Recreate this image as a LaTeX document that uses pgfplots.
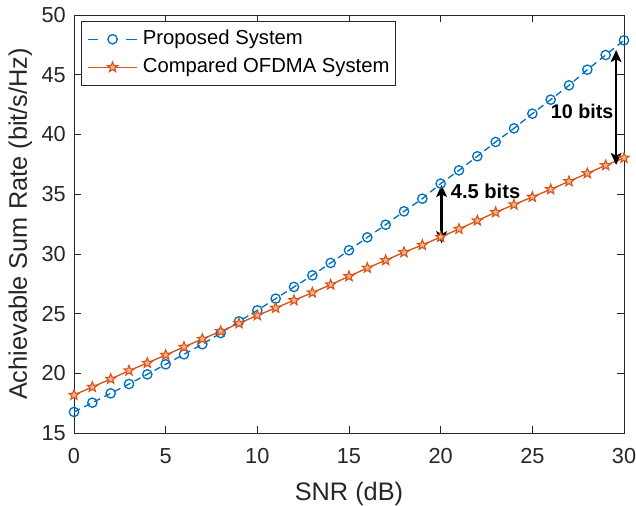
\documentclass[border=0pt]{standalone}
\usepackage{pgfplots}
\pgfplotsset{compat=1.18}
\usepackage{fontspec}
\setmainfont{Liberation Sans}
\usetikzlibrary{arrows.meta}

\definecolor{mblue}{rgb}{0,0.447,0.741}
\definecolor{morange}{rgb}{0.85,0.325,0.098}
\definecolor{maxis}{rgb}{0.15,0.15,0.15}

% five-pointed star marker
\pgfdeclareplotmark{pentagram}{%
  \pgfpathmoveto{\pgfpointpolar{90}{\pgfplotmarksize}}%
  \pgfpathlineto{\pgfpointpolar{126}{0.42*\pgfplotmarksize}}%
  \pgfpathlineto{\pgfpointpolar{162}{\pgfplotmarksize}}%
  \pgfpathlineto{\pgfpointpolar{198}{0.42*\pgfplotmarksize}}%
  \pgfpathlineto{\pgfpointpolar{234}{\pgfplotmarksize}}%
  \pgfpathlineto{\pgfpointpolar{270}{0.42*\pgfplotmarksize}}%
  \pgfpathlineto{\pgfpointpolar{306}{\pgfplotmarksize}}%
  \pgfpathlineto{\pgfpointpolar{342}{0.42*\pgfplotmarksize}}%
  \pgfpathlineto{\pgfpointpolar{18}{\pgfplotmarksize}}%
  \pgfpathlineto{\pgfpointpolar{54}{0.42*\pgfplotmarksize}}%
  \pgfpathclose
  \pgfusepathqfillstroke
}

\pgfplotstableread{
snr prop ofdma
0  16.76 18.18
1  17.54 18.85
2  18.32 19.52
3  19.10 20.22
4  19.91 20.86
5  20.75 21.53
6  21.59 22.20
7  22.43 22.87
8  23.37 23.51
9  24.35 24.18
10 25.27 24.85
11 26.25 25.47
12 27.23 26.11
13 28.20 26.75
14 29.24 27.42
15 30.30 28.12
16 31.38 28.82
17 32.44 29.46
18 33.56 30.13
19 34.62 30.74
20 35.88 31.41
21 36.99 32.08
22 38.17 32.78
23 39.37 33.48
24 40.51 34.12
25 41.74 34.76
26 42.91 35.40
27 44.11 36.07
28 45.42 36.74
29 46.65 37.41
30 47.88 38.03
}\ratetable

\tikzset{gaparrow/.style={
  {Stealth[length=9pt,width=8pt,inset=2pt]}-{Stealth[length=9pt,width=8pt,inset=2pt]},
  line width=1.8pt, black}}

\begin{document}
\begin{tikzpicture}
\begin{axis}[
  name=ax,
  scale only axis,
  width=412.5pt, height=313.5pt,
  xmin=0, xmax=30, ymin=15, ymax=50,
  xtick={0,5,...,30}, ytick={15,20,...,50},
  tick align=inside,
  major tick length=5pt,
  axis line style={draw=maxis, line width=0.5pt},
  every tick/.style={maxis, line width=0.5pt},
  /pgf/number format/assume math mode=true,
  tick label style={font=\fontsize{16.3}{19}\selectfont, text=maxis, inner sep=0pt},
  xticklabel style={anchor=north, yshift=-11.5pt},
  yticklabel style={anchor=east, xshift=-6pt},
  label style={font=\fontsize{19}{22}\selectfont, text=maxis, inner sep=0pt},
  xlabel={SNR (dB)},
  ylabel={Achievable Sum Rate (bit/s/Hz)},
  xlabel style={at={(axis description cs:0.5,0)}, anchor=north, yshift=-36.5pt},
  ylabel style={at={(axis description cs:-0.0755,0.5)}, anchor=south},
  legend style={at={(axis description cs:0.0127,0.9856)}, anchor=north west,
    font=\fontsize{15.2}{18}\selectfont, draw=maxis,
    inner xsep=4.5pt, inner ysep=6.5pt, row sep=7pt,
    nodes={inner sep=0pt, text height=11pt, text depth=3pt},
    /tikz/every odd column/.style={column sep=3.75pt}},
  legend cell align=left,
  legend image code/.code={%
    \draw[line width=1pt, mark repeat=2, mark phase=2]
      plot coordinates {(0pt,0pt) (18.5pt,0pt) (37pt,0pt)};},
]
\addplot[color=mblue, line width=1pt, dash pattern=on 5pt off 3.5pt,
  mark=o, mark size=3.5pt, mark options={solid, line width=1pt},
  legend image post style={dash pattern=on 7.5pt off 21pt on 8.5pt}]
  table[x=snr, y=prop] {\ratetable};
\addlegendentry{Proposed System}
\addplot[color=morange, line width=1pt,
  mark=pentagram, mark size=4pt,
  mark options={solid, line width=0.8pt, fill=morange!45!white}]
  table[x=snr, y=ofdma] {\ratetable};
\addlegendentry{Compared OFDMA System}

% gap annotations
\draw[gaparrow] (axis cs:20.05,30.88) -- (axis cs:20.05,35.77);
\draw[gaparrow] (axis cs:29.57,37.44) -- (axis cs:29.57,47.07);
\node[anchor=west, font=\bfseries\fontsize{15.1}{17}\selectfont, inner sep=0pt]
  at (axis cs:20.54,35.2) {4.5 bits};
\node[anchor=east, font=\bfseries\fontsize{14.8}{17}\selectfont, inner sep=0pt]
  at (axis cs:29.44,41.96) {10 bits};
\end{axis}
% page frame
\pgfresetboundingbox
\path[use as bounding box] (-55.5pt,-54.75pt) rectangle (421.5pt,324.75pt);
\end{tikzpicture}
\end{document}
